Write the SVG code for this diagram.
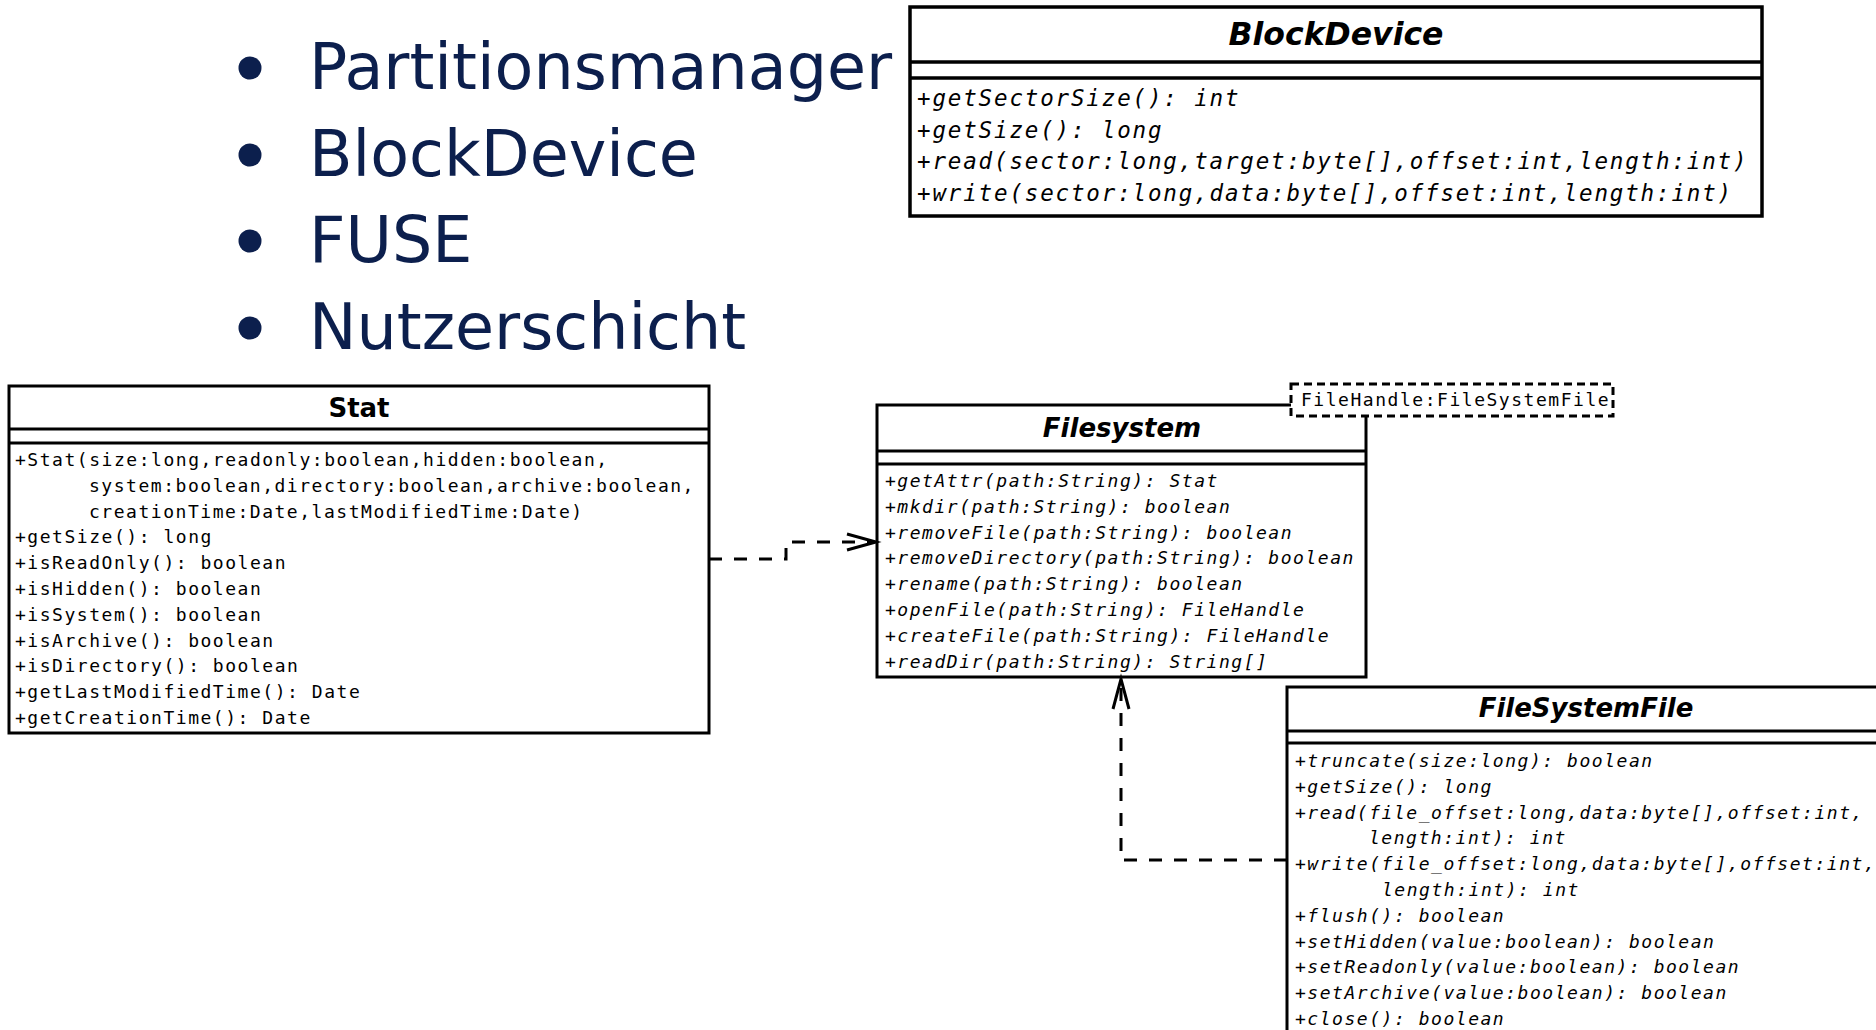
<svg xmlns="http://www.w3.org/2000/svg" width="1876" height="1030" viewBox="0 0 1876 1030">
  <style>
    .bullet-text { font-family: "DejaVu Sans", "Liberation Sans", sans-serif; font-size: 63.5px; fill: #0c1f4d; }
    .bullet-dot { fill: #0c1f4d; }
    .box { fill: #ffffff; stroke: #000000; stroke-width: 3; }
    .sep { stroke: #000000; stroke-width: 3; }
    .title { font-family: "DejaVu Sans", "Liberation Sans", sans-serif; font-weight: bold; font-size: 26px; fill: #000000; text-anchor: middle; }
    .abstract { font-style: italic; }
    .member { font-family: "DejaVu Sans Mono", "Liberation Mono", monospace; font-size: 18px; letter-spacing: 1.53px; fill: #000000; }
    .op { font-style: italic; }
    .big-member { font-family: "DejaVu Sans Mono", "Liberation Mono", monospace; font-size: 22.5px; letter-spacing: 1.85px; fill: #000000; font-style: italic; }
    .template { fill: #ffffff; stroke: #000000; stroke-width: 3; stroke-dasharray: 8 5; }
    .dep { fill: none; stroke: #000000; stroke-width: 3; stroke-dasharray: 13 12; }
    .head { fill: none; stroke: #000000; stroke-width: 3; stroke-dasharray: none; stroke-linejoin: miter; }
  </style>

  <!-- layer list -->
  <g id="layers">
    <circle class="bullet-dot" cx="250" cy="68" r="11.5"/>
    <text class="bullet-text" x="309" y="89">Partitionsmanager</text>
    <circle class="bullet-dot" cx="250" cy="155" r="11.5"/>
    <text class="bullet-text" x="309" y="175.5">BlockDevice</text>
    <circle class="bullet-dot" cx="250" cy="241" r="11.5"/>
    <text class="bullet-text" x="309" y="262">FUSE</text>
    <circle class="bullet-dot" cx="250" cy="328" r="11.5"/>
    <text class="bullet-text" x="309" y="348.5">Nutzerschicht</text>
  </g>

  <!-- BlockDevice interface -->
  <g id="blockdevice">
    <rect class="box" x="910" y="7" width="852" height="209" style="stroke-width:3.5"/>
    <line class="sep" x1="910" y1="62" x2="1762" y2="62" style="stroke-width:3.5"/>
    <line class="sep" x1="910" y1="78" x2="1762" y2="78" style="stroke-width:3.5"/>
    <text class="title abstract" x="1336" y="45" style="font-size:31.5px">BlockDevice</text>
    <text class="big-member" x="917" y="106">+getSectorSize(): int</text>
    <text class="big-member" x="917" y="137.7">+getSize(): long</text>
    <text class="big-member" x="917" y="169.4">+read(sector:long,target:byte[],offset:int,length:int)</text>
    <text class="big-member" x="917" y="201">+write(sector:long,data:byte[],offset:int,length:int)</text>
  </g>

  <!-- Stat class -->
  <g id="stat">
    <rect class="box" x="9" y="386" width="700" height="347"/>
    <line class="sep" x1="9" y1="429" x2="709" y2="429"/>
    <line class="sep" x1="9" y1="443" x2="709" y2="443"/>
    <text class="title" x="359" y="417">Stat</text>
    <text class="member" x="15" y="466">+Stat(size:long,readonly:boolean,hidden:boolean,</text>
    <text class="member" x="89" y="491.8">system:boolean,directory:boolean,archive:boolean,</text>
    <text class="member" x="89" y="517.6">creationTime:Date,lastModifiedTime:Date)</text>
    <text class="member" x="15" y="543.4">+getSize(): long</text>
    <text class="member" x="15" y="569.2">+isReadOnly(): boolean</text>
    <text class="member" x="15" y="595">+isHidden(): boolean</text>
    <text class="member" x="15" y="620.8">+isSystem(): boolean</text>
    <text class="member" x="15" y="646.6">+isArchive(): boolean</text>
    <text class="member" x="15" y="672.4">+isDirectory(): boolean</text>
    <text class="member" x="15" y="698.2">+getLastModifiedTime(): Date</text>
    <text class="member" x="15" y="724">+getCreationTime(): Date</text>
  </g>

  <!-- Filesystem interface with template parameter -->
  <g id="filesystem">
    <rect class="box" x="877" y="405" width="489" height="272"/>
    <line class="sep" x1="877" y1="451" x2="1366" y2="451"/>
    <line class="sep" x1="877" y1="464" x2="1366" y2="464"/>
    <text class="title abstract" x="1122" y="437">Filesystem</text>
    <text class="member op" x="885" y="487">+getAttr(path:String): Stat</text>
    <text class="member op" x="885" y="512.8">+mkdir(path:String): boolean</text>
    <text class="member op" x="885" y="538.6">+removeFile(path:String): boolean</text>
    <text class="member op" x="885" y="564.4">+removeDirectory(path:String): boolean</text>
    <text class="member op" x="885" y="590.2">+rename(path:String): boolean</text>
    <text class="member op" x="885" y="616">+openFile(path:String): FileHandle</text>
    <text class="member op" x="885" y="641.8">+createFile(path:String): FileHandle</text>
    <text class="member op" x="885" y="667.6">+readDir(path:String): String[]</text>
    <rect class="template" x="1291" y="384" width="322" height="32"/>
    <text class="member" x="1301" y="406">FileHandle:FileSystemFile</text>
  </g>

  <!-- FileSystemFile interface -->
  <g id="filesystemfile">
    <rect class="box" x="1287" y="687" width="600" height="360"/>
    <line class="sep" x1="1287" y1="731" x2="1887" y2="731"/>
    <line class="sep" x1="1287" y1="743" x2="1887" y2="743"/>
    <text class="title abstract" x="1586" y="717">FileSystemFile</text>
    <text class="member op" x="1295" y="767">+truncate(size:long): boolean</text>
    <text class="member op" x="1295" y="792.8">+getSize(): long</text>
    <text class="member op" x="1295" y="818.6">+read(file_offset:long,data:byte[],offset:int,</text>
    <text class="member op" x="1369" y="844.4">length:int): int</text>
    <text class="member op" x="1295" y="870.2">+write(file_offset:long,data:byte[],offset:int,</text>
    <text class="member op" x="1382" y="896">length:int): int</text>
    <text class="member op" x="1295" y="921.8">+flush(): boolean</text>
    <text class="member op" x="1295" y="947.6">+setHidden(value:boolean): boolean</text>
    <text class="member op" x="1295" y="973.4">+setReadonly(value:boolean): boolean</text>
    <text class="member op" x="1295" y="999.2">+setArchive(value:boolean): boolean</text>
    <text class="member op" x="1295" y="1025">+close(): boolean</text>
  </g>

  <!-- dependency connectors -->
  <g id="connectors">
    <path class="dep" d="M709,559 H786 V542 H874"/>
    <polyline class="head" points="847,534 876,542 847,550"/>
    <path class="dep" d="M1287,860 H1121 V681"/>
    <polyline class="head" points="1113,709 1121,679 1129,709"/>
  </g>
</svg>
